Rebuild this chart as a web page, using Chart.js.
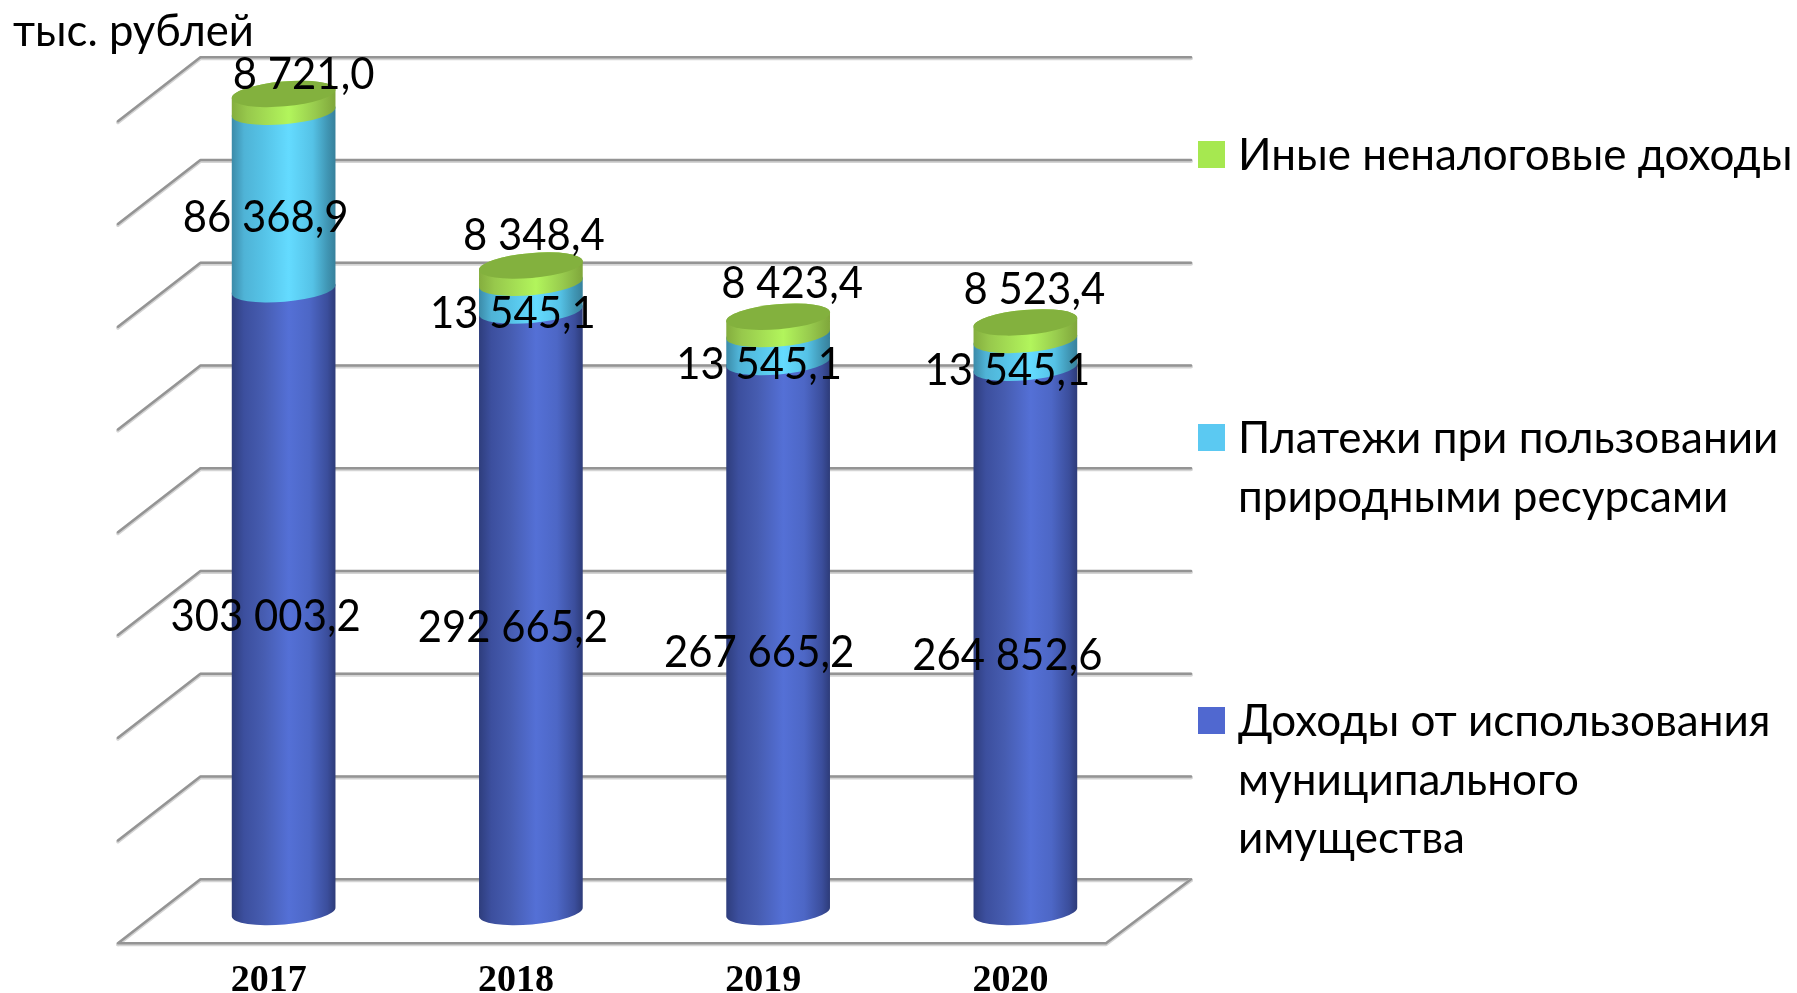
<!DOCTYPE html>
<html lang="ru"><head><meta charset="utf-8">
<style>html,body{margin:0;padding:0;background:#fff}canvas{display:block}</style>
<script src="https://cdn.jsdelivr.net/npm/chart.js@4"></script>
</head><body><canvas id="c" width="1797" height="993"></canvas>
<script>
const categories = ["2017","2018","2019","2020"];
const municipalProperty = [303003.2, 292665.2, 267665.2, 264852.6];
const naturalResources = [86368.9, 13545.1, 13545.1, 13545.1];
const otherIncome = [8721.0, 8348.4, 8423.4, 8523.4];
const seriesNames = [["Доходы от использования","муниципального","имущества"],["Платежи при пользовании","природными ресурсами"],["Иные неналоговые доходы"]];
const unitLabel = "тыс. рублей";
const axisMax = 400000, axisStep = 50000;

const FONT = '45px Lato, "Open Sans", sans-serif';
const legendFont = '44px Lato, "Open Sans", sans-serif';
const swatchColors = ["#5068d0","#5bc9f2","#a6e850"];
const ramps = [
 [[0,"#2e3d7c"],[.12,"#3c4f9e"],[.3,"#465cb0"],[.55,"#5470d6"],[.75,"#4d67c6"],[.92,"#3b4e9c"],[1,"#2d3b78"]],
 [[0,"#3b8aa8"],[.12,"#4fb3d6"],[.3,"#55c2e6"],[.55,"#64dbff"],[.78,"#55c2e6"],[.92,"#4096b4"],[1,"#37809b"]],
 [[0,"#84ad3e"],[.15,"#97c84c"],[.55,"#b2f55c"],[.8,"#98cb4e"],[1,"#7fa63b"]]
];
const capColor = "#83b13e";
const TILT = -0.087, RY = 12.5;
// label placement relative to segment centres
const labelDx = [[-18,-18,-19,-18],[-18,-18,-19,-18],[20,3,14,9]];
const labelDy = [[16,16,16,16],[16.5,16.5,16.5,16.5],[-28,-39,-42,-42]];

const fmt = v => { const [a,b] = v.toFixed(1).split("."); return a.replace(/\B(?=(\d{3})+$)/g," ") + "," + b; };
const condensed = (ctx,s,x,y,k) => ctx.fillText(s,x,y,ctx.measureText(s).width*k);

const cylinders = {
  id:"cylinders",
  beforeDatasetsDraw(chart){
    const {ctx, scales:{y}} = chart;
    // 3D walls and floor
    const bx0=200.5, bx1=1191, fx0=118, fx1=1106, up=32.8, down=31.2;
    ctx.save();
    ctx.lineCap="round";ctx.lineJoin="round";
    const stroke=(path)=>{ [["#d4d4d4",4,1],["#949494",2.4,0]].forEach(([c,w,o])=>{ctx.strokeStyle=c;ctx.lineWidth=w;ctx.beginPath();path(o);ctx.stroke();}); };
    y.ticks.forEach(t=>{
      const py=y.getPixelForValue(t.value);
      stroke(o=>{
        ctx.moveTo(fx0,py+down+o);
        ctx.lineTo(bx0,py-up+o);
        ctx.lineTo(bx1,py-up+o);
      });
    });
    const z=y.getPixelForValue(0);
    stroke(o=>{
      ctx.moveTo(fx0,z+down+o);ctx.lineTo(fx1,z+down+o);ctx.lineTo(bx1,z-up+o);
    });
    // cylinders, bottom segment first
    chart.data.datasets.forEach((ds,di)=>{
      chart.getDatasetMeta(di).data.forEach(el=>{
        const r=el.width/2, g=ctx.createLinearGradient(el.x-r,0,el.x+r,0);
        ramps[di].forEach(([p,c])=>g.addColorStop(p,c));
        ctx.fillStyle=g;
        ctx.beginPath();
        ctx.ellipse(el.x,el.base,r,RY,TILT,0,Math.PI,false);
        ctx.ellipse(el.x,el.y,r,RY,TILT,Math.PI,Math.PI*2,false);
        ctx.closePath();
        ctx.fill();
        if(di===chart.data.datasets.length-1){
          ctx.fillStyle=capColor;
          ctx.beginPath();ctx.ellipse(el.x,el.y,r,RY,TILT,0,Math.PI*2);ctx.fill();
        }
      });
    });
    ctx.restore();
  },
  beforeDatasetDraw(){ return false; },
  afterDatasetsDraw(chart){
    const {ctx}=chart;
    ctx.save();
    ctx.fillStyle="#000";ctx.font=FONT;ctx.textAlign="center";ctx.textBaseline="middle";
    chart.data.datasets.forEach((ds,di)=>{
      chart.getDatasetMeta(di).data.forEach((el,i)=>{
        condensed(ctx,fmt(ds.data[i]),el.x+labelDx[di][i],(el.y+el.base)/2+labelDy[di][i],0.93);
      });
    });
    ctx.textAlign="left";
    condensed(ctx,unitLabel,13,31,0.97);
    // legend
    ctx.font=legendFont;
    const centres=[721,438,155], lh=58.5;
    seriesNames.forEach((lines,k)=>{
      const first=centres[k];
      ctx.fillStyle=swatchColors[k];
      ctx.fillRect(1198,first-14,27,27);
      ctx.fillStyle="#000";
      lines.forEach((s,j)=>ctx.fillText(s,1238,first+1+j*lh));
    });
    ctx.restore();
  }
};

new Chart(document.getElementById("c"),{
  type:"bar",
  data:{labels:categories,datasets:[
    {label:seriesNames[0].join(" "),data:municipalProperty,backgroundColor:swatchColors[0]},
    {label:seriesNames[1].join(" "),data:naturalResources,backgroundColor:swatchColors[1]},
    {label:seriesNames[2].join(" "),data:otherIncome,backgroundColor:swatchColors[2]}
  ]},
  options:{
    responsive:false,animation:false,
    layout:{padding:{left:160,right:648,top:90,bottom:0}},
    datasets:{bar:{categoryPercentage:1,barPercentage:0.421}},
    plugins:{legend:{display:false},title:{display:false},tooltip:{enabled:false}},
    scales:{
      x:{stacked:true,grid:{display:false},border:{display:false},
         afterFit(s){s.height=81;},
         ticks:{color:"#000",padding:38,labelOffset:-15,maxRotation:0,font:{family:'"Liberation Serif"',size:38,weight:"bold"}}},
      y:{stacked:true,min:0,max:axisMax,grid:{display:false},border:{display:false},
         afterFit(s){s.width=0;},
         ticks:{display:false,stepSize:axisStep}}
    }
  },
  plugins:[cylinders]
});
</script></body></html>
